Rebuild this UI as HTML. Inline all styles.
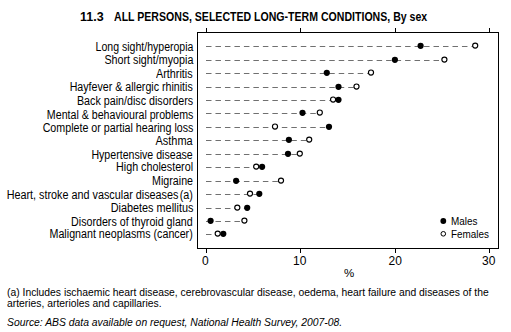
<!DOCTYPE html>
<html><head><meta charset="utf-8"><style>
html,body{margin:0;padding:0;background:#fff;}
body{width:511px;height:332px;position:relative;overflow:hidden;font-family:"Liberation Sans",sans-serif;color:#000;}
.t{position:absolute;white-space:pre;line-height:12px;}
.lab{position:absolute;right:318px;white-space:pre;font-size:12px;line-height:12px;transform:scaleX(0.88);transform-origin:100% 50%;}
svg{position:absolute;left:0;top:0;}
</style></head><body>
<svg width="511" height="332" viewBox="0 0 511 332">
<rect x="197.5" y="32.5" width="301" height="216" fill="none" stroke="#000" stroke-width="1"/>
<line x1="206.5" y1="28" x2="206.5" y2="32" stroke="#000" stroke-width="1"/>
<line x1="206.5" y1="248.5" x2="206.5" y2="253" stroke="#000" stroke-width="1"/>
<line x1="300.5" y1="28" x2="300.5" y2="32" stroke="#000" stroke-width="1"/>
<line x1="300.5" y1="248.5" x2="300.5" y2="253" stroke="#000" stroke-width="1"/>
<line x1="395.5" y1="28" x2="395.5" y2="32" stroke="#000" stroke-width="1"/>
<line x1="395.5" y1="248.5" x2="395.5" y2="253" stroke="#000" stroke-width="1"/>
<line x1="489.5" y1="28" x2="489.5" y2="32" stroke="#000" stroke-width="1"/>
<line x1="489.5" y1="248.5" x2="489.5" y2="253" stroke="#000" stroke-width="1"/>
<line x1="206.0" y1="46.5" x2="474.8" y2="46.5" stroke="#707070" stroke-width="1" stroke-dasharray="5.5 3.98"/>
<line x1="206.0" y1="60.5" x2="444.0" y2="60.5" stroke="#707070" stroke-width="1" stroke-dasharray="5.5 3.98"/>
<line x1="206.0" y1="73.5" x2="370.6" y2="73.5" stroke="#707070" stroke-width="1" stroke-dasharray="5.5 3.98"/>
<line x1="206.0" y1="87.5" x2="356.1" y2="87.5" stroke="#707070" stroke-width="1" stroke-dasharray="5.5 3.98"/>
<line x1="206.0" y1="100.5" x2="338.5" y2="100.5" stroke="#707070" stroke-width="1" stroke-dasharray="5.5 3.98"/>
<line x1="206.0" y1="113.5" x2="319.4" y2="113.5" stroke="#707070" stroke-width="1" stroke-dasharray="5.5 3.98"/>
<line x1="206.0" y1="127.5" x2="329.0" y2="127.5" stroke="#707070" stroke-width="1" stroke-dasharray="5.5 3.98"/>
<line x1="206.0" y1="140.5" x2="308.8" y2="140.5" stroke="#707070" stroke-width="1" stroke-dasharray="5.5 3.98"/>
<line x1="206.0" y1="154.5" x2="299.4" y2="154.5" stroke="#707070" stroke-width="1" stroke-dasharray="5.5 3.98"/>
<line x1="206.0" y1="167.5" x2="262.1" y2="167.5" stroke="#707070" stroke-width="1" stroke-dasharray="5.5 3.98"/>
<line x1="206.0" y1="181.5" x2="280.6" y2="181.5" stroke="#707070" stroke-width="1" stroke-dasharray="5.5 3.98"/>
<line x1="206.0" y1="194.5" x2="259.3" y2="194.5" stroke="#707070" stroke-width="1" stroke-dasharray="5.5 3.98"/>
<line x1="206.0" y1="208.5" x2="247.2" y2="208.5" stroke="#707070" stroke-width="1" stroke-dasharray="5.5 3.98"/>
<line x1="206.0" y1="221.5" x2="244.0" y2="221.5" stroke="#707070" stroke-width="1" stroke-dasharray="5.5 3.98"/>
<line x1="206.0" y1="234.5" x2="223.3" y2="234.5" stroke="#707070" stroke-width="1" stroke-dasharray="5.5 3.98"/>
<circle cx="475.2" cy="45.60" r="2.55" fill="#fff" stroke="#000" stroke-width="1.15"/>
<circle cx="420.6" cy="45.8" r="3.1" fill="#000"/>
<circle cx="444.4" cy="59.60" r="2.55" fill="#fff" stroke="#000" stroke-width="1.15"/>
<circle cx="394.9" cy="59.8" r="3.1" fill="#000"/>
<circle cx="371.0" cy="72.60" r="2.55" fill="#fff" stroke="#000" stroke-width="1.15"/>
<circle cx="326.8" cy="72.8" r="3.1" fill="#000"/>
<circle cx="356.5" cy="86.60" r="2.55" fill="#fff" stroke="#000" stroke-width="1.15"/>
<circle cx="338.5" cy="86.8" r="3.1" fill="#000"/>
<circle cx="333.1" cy="99.60" r="2.55" fill="#fff" stroke="#000" stroke-width="1.15"/>
<circle cx="338.5" cy="99.8" r="3.1" fill="#000"/>
<circle cx="319.8" cy="112.60" r="2.55" fill="#fff" stroke="#000" stroke-width="1.15"/>
<circle cx="302.5" cy="112.8" r="3.1" fill="#000"/>
<circle cx="275.0" cy="126.60" r="2.55" fill="#fff" stroke="#000" stroke-width="1.15"/>
<circle cx="329.0" cy="126.8" r="3.1" fill="#000"/>
<circle cx="309.2" cy="139.60" r="2.55" fill="#fff" stroke="#000" stroke-width="1.15"/>
<circle cx="288.9" cy="139.8" r="3.1" fill="#000"/>
<circle cx="299.8" cy="153.60" r="2.55" fill="#fff" stroke="#000" stroke-width="1.15"/>
<circle cx="288.0" cy="153.8" r="3.1" fill="#000"/>
<circle cx="256.2" cy="166.60" r="2.55" fill="#fff" stroke="#000" stroke-width="1.15"/>
<circle cx="262.1" cy="166.8" r="3.1" fill="#000"/>
<circle cx="281.0" cy="180.60" r="2.55" fill="#fff" stroke="#000" stroke-width="1.15"/>
<circle cx="236.1" cy="180.8" r="3.1" fill="#000"/>
<circle cx="250.0" cy="193.60" r="2.55" fill="#fff" stroke="#000" stroke-width="1.15"/>
<circle cx="259.3" cy="193.8" r="3.1" fill="#000"/>
<circle cx="237.3" cy="207.60" r="2.55" fill="#fff" stroke="#000" stroke-width="1.15"/>
<circle cx="247.2" cy="207.8" r="3.1" fill="#000"/>
<circle cx="244.4" cy="220.60" r="2.55" fill="#fff" stroke="#000" stroke-width="1.15"/>
<circle cx="210.6" cy="220.8" r="3.1" fill="#000"/>
<circle cx="217.7" cy="233.60" r="2.55" fill="#fff" stroke="#000" stroke-width="1.15"/>
<circle cx="223.3" cy="233.8" r="3.1" fill="#000"/>
<circle cx="443.3" cy="221" r="2.9" fill="#000"/>
<circle cx="443.3" cy="233.8" r="2.3" fill="#fff" stroke="#000" stroke-width="1"/>
</svg>
<div class="t" style="left:80px;top:11px;font-weight:bold;font-size:12.5px;transform:scaleX(1);transform-origin:0 50%">11.3</div>
<div class="t" id="title" style="left:114px;top:11px;font-weight:bold;font-size:12.5px;transform:scaleX(0.845);transform-origin:0 50%">ALL PERSONS, SELECTED LONG-TERM CONDITIONS, By sex</div>
<div class="lab" style="top:41.00px;transform:scaleX(0.878)">Long sight/hyperopia</div>
<div class="lab" style="top:54.00px;transform:scaleX(0.895)">Short sight/myopia</div>
<div class="lab" style="top:68.00px;transform:scaleX(0.9)">Arthritis</div>
<div class="lab" style="top:81.00px;transform:scaleX(0.887)">Hayfever &amp; allergic rhinitis</div>
<div class="lab" style="top:95.00px;transform:scaleX(0.893)">Back pain/disc disorders</div>
<div class="lab" style="top:108.50px;transform:scaleX(0.886)">Mental &amp; behavioural problems</div>
<div class="lab" style="top:121.50px;transform:scaleX(0.89)">Complete or partial hearing loss</div>
<div class="lab" style="top:135.00px;transform:scaleX(0.915)">Asthma</div>
<div class="lab" style="top:149.00px;transform:scaleX(0.883)">Hypertensive disease</div>
<div class="lab" style="top:161.00px;transform:scaleX(0.895)">High cholesterol</div>
<div class="lab" style="top:175.00px;transform:scaleX(0.889)">Migraine</div>
<div class="lab" style="top:188.50px;transform:scaleX(0.9)">Heart, stroke and vascular diseases<span style="margin-left:1.5px">(a)</span></div>
<div class="lab" style="top:202.00px;transform:scaleX(0.905)">Diabetes mellitus</div>
<div class="lab" style="top:215.50px;transform:scaleX(0.89)">Disorders of thyroid gland</div>
<div class="lab" style="top:228.00px;transform:scaleX(0.891)">Malignant neoplasms (cancer)</div>
<div class="t" style="left:202px;top:255px;font-size:12px">0</div>
<div class="t" style="left:293px;top:255px;font-size:12px">10</div>
<div class="t" style="left:388.5px;top:255px;font-size:12px">20</div>
<div class="t" style="left:482px;top:255px;font-size:12px">30</div>
<div class="t" style="left:344px;top:267px;font-size:11.5px">%</div>
<div class="t" style="left:451px;top:215px;font-size:11px;transform:scaleX(0.9);transform-origin:0 50%">Males</div>
<div class="t" style="left:451px;top:228px;font-size:11px;transform:scaleX(0.9);transform-origin:0 50%">Females</div>
<div class="t" style="left:7px;top:286.7px;font-size:10px;transform:scaleX(1.034);transform-origin:0 50%">(a) Includes ischaemic heart disease, cerebrovascular disease, oedema, heart failure and diseases of the</div>
<div class="t" style="left:7px;top:298px;font-size:10px;transform:scaleX(1.034);transform-origin:0 50%">arteries, arterioles and capillaries.</div>
<div class="t" style="left:7px;top:317px;font-size:10px;font-style:italic;transform:scaleX(1.036);transform-origin:0 50%">Source: ABS data available on request, National Health Survey, 2007-08.</div>
</body></html>
